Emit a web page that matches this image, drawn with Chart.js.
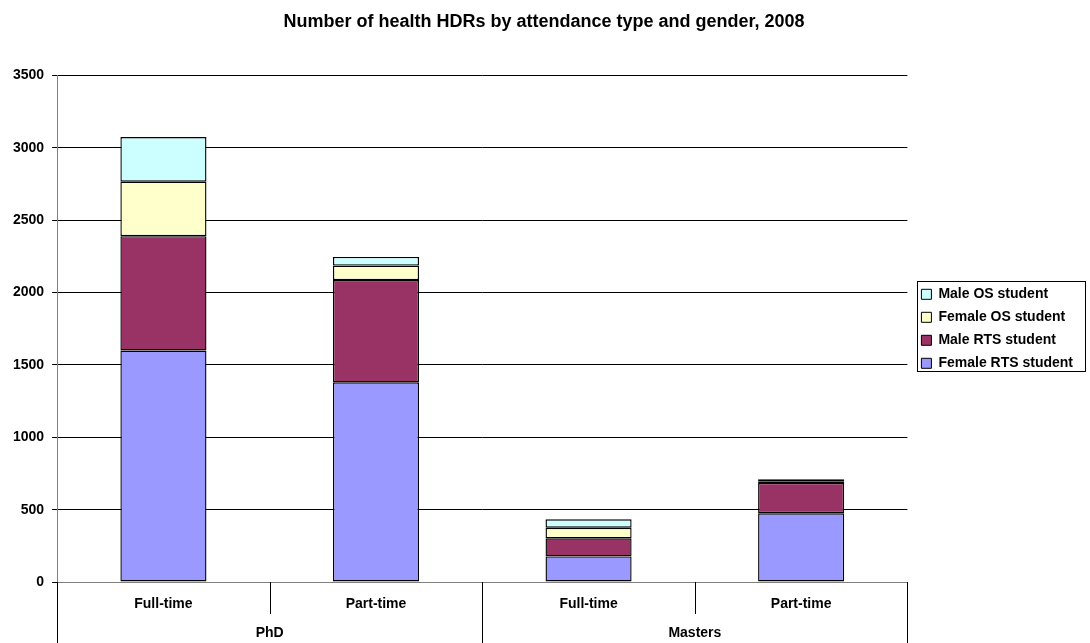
<!DOCTYPE html>
<html>
<head>
<meta charset="utf-8">
<script src="https://cdn.jsdelivr.net/npm/chart.js@4.4.1/dist/chart.umd.min.js"></script>
<style>
  html, body { margin: 0; padding: 0; background: #fff; }
  #wrap { width: 1090px; height: 643px; position: relative; }
</style>
</head>
<body>
<div id="wrap"><canvas id="chart"></canvas></div>
<script>
// categories: attendance type within each degree group
const attendance = ['Full-time', 'Part-time', 'Full-time', 'Part-time'];
const degreeGroups = ['PhD', 'Masters'];

// series values
const femaleRTS = [1600, 1380, 177, 475];
const maleRTS = [790, 707, 125, 210];
const femaleOS = [377, 100, 73, 12];
const maleOS = [308, 60, 58, 13];

const yTicks = [0, 500, 1000, 1500, 2000, 2500, 3000, 3500];

const FONT = '"Liberation Sans", Arial, sans-serif';
const BOLD14 = { family: FONT, size: 14, weight: 'bold' };

// frame round the legend + the separator ticks under the category axis
const extras = {
  id: 'extras',
  afterDraw(chart) {
    const ctx = chart.ctx;
    ctx.save();
    ctx.strokeStyle = '#000';
    ctx.lineWidth = 1;

    const boxes = chart.legend && chart.legend.legendHitBoxes;
    if (boxes && boxes.length) {
      let l = Infinity, t = Infinity, r = -Infinity, b = -Infinity;
      boxes.forEach(h => {
        l = Math.min(l, h.left); t = Math.min(t, h.top);
        r = Math.max(r, h.left + h.width); b = Math.max(b, h.top + h.height);
      });
      ctx.strokeRect(Math.round(l - 4) + 0.5, Math.round(t - 6) + 0.5, Math.round(r - l + 16), Math.round(b - t + 7));
    }

    const x = chart.scales.x;
    const top = chart.chartArea.bottom;
    const perGroup = attendance.length / degreeGroups.length;
    for (let i = 0; i <= attendance.length; i++) {
      const px = Math.round(x.getPixelForValue(i - 0.5)) + 0.5;
      const end = i % perGroup === 0 ? chart.height : top + 32;
      ctx.beginPath();
      ctx.moveTo(px, top);
      ctx.lineTo(px, end);
      ctx.stroke();
    }
    ctx.restore();
  }
};

new Chart(document.getElementById('chart'), {
  type: 'bar',
  data: {
    labels: attendance,
    datasets: [
      { label: 'Female RTS student', data: femaleRTS, backgroundColor: '#9999FF' },
      { label: 'Male RTS student', data: maleRTS, backgroundColor: '#993366' },
      { label: 'Female OS student', data: femaleOS, backgroundColor: '#FFFFCC' },
      { label: 'Male OS student', data: maleOS, backgroundColor: '#CCFFFF' }
    ].map(d => Object.assign(d, {
      borderColor: '#000',
      borderWidth: 1.4,
      borderSkipped: false,
      categoryPercentage: 1,
      barPercentage: 0.405
    }))
  },
  options: {
    responsive: true,
    maintainAspectRatio: false,
    animation: false,
    layout: { padding: { left: 5, right: 7, top: 0, bottom: 1 } },
    plugins: {
      tooltip: { enabled: false },
      title: {
        display: true,
        text: 'Number of health HDRs by attendance type and gender, 2008',
        color: '#000',
        font: { family: FONT, size: 18, weight: 'bold' },
        padding: { top: 11, bottom: 43 }
      },
      legend: {
        position: 'right',
        fullSize: false,
        reverse: true,
        labels: {
          color: '#000',
          font: BOLD14,
          boxWidth: 10,
          boxHeight: 10,
          padding: 9,
          generateLabels(chart) {
            return chart.data.datasets.map((d, i) => ({
              text: d.label,
              fillStyle: d.backgroundColor,
              strokeStyle: '#000',
              lineWidth: 1,
              datasetIndex: i,
              fontColor: '#000'
            }));
          }
        }
      }
    },
    scales: {
      x: {
        stacked: true,
        grid: { display: false, drawTicks: false },
        border: { color: '#808080', width: 1 },
        ticks: { color: '#000', padding: 14, font: BOLD14 },
        afterFit(s) { s.height = 29; }
      },
      x2: {
        type: 'category',
        labels: degreeGroups,
        position: 'bottom',
        offset: true,
        grid: { display: false, drawTicks: false },
        border: { display: false },
        ticks: { color: '#000', padding: 14, font: BOLD14 },
        afterFit(s) { s.height = 31; }
      },
      y: {
        stacked: true,
        min: 0,
        max: 3500,
        afterBuildTicks(scale) { scale.ticks = yTicks.map(v => ({ value: v })); },
        grid: { color: '#000', tickLength: 5 },
        border: { color: '#808080', width: 1 },
        ticks: {
          color: '#000',
          padding: 8,
          font: BOLD14,
          callback: v => String(v)
        }
      },
      // empty strip between the plot and the legend
      gap: {
        type: 'linear',
        position: 'right',
        grid: { display: false, drawTicks: false },
        border: { display: false },
        ticks: { display: false },
        afterFit(s) { s.width = 5; }
      }
    }
  },
  plugins: [extras]
});
</script>
</body>
</html>
